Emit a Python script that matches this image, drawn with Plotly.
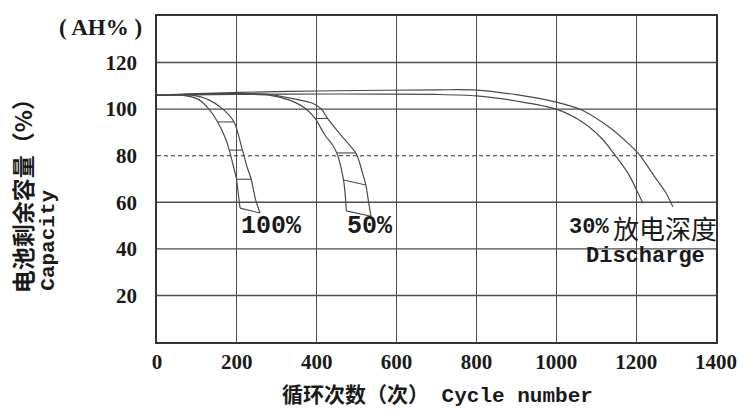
import plotly.graph_objects as go

# Cycle-life bands (two boundary curves per depth of discharge)
CYC_100_IN = [0, 60, 100, 125, 152, 170, 181, 192, 199, 204, 208]
CAP_100_IN = [106, 106, 104.5, 101, 94.5, 88, 82.4, 75, 69.9, 63, 57.5]
CYC_100_OUT = [0, 86, 130, 165, 193, 214, 225, 236, 247, 258]
CAP_100_OUT = [106, 106, 104, 100, 94.5, 82.4, 75.5, 69.9, 61, 55.4]

CYC_50_IN = [0, 200, 280, 330, 370, 396, 420, 440, 452, 462, 468, 472, 474]
CAP_50_IN = [106, 106.4, 106, 104, 100.5, 96, 89, 84.5, 80.5, 74, 68.5, 62, 56.3]
CYC_50_OUT = [0, 200, 280, 340, 390, 412, 427, 455, 480, 500, 514, 523, 530, 536]
CAP_50_OUT = [106, 106.8, 106.3, 104.5, 102.5, 100, 96, 90, 85, 80.5, 73, 67.4, 60, 54]

CYC_30_IN = [0, 200, 450, 700, 800, 900, 1000, 1065, 1114, 1147, 1180, 1205, 1217]
CAP_30_IN = [106, 106.3, 106.5, 106.3, 105.7, 103.5, 100, 94.5, 87.4, 80.3, 72.4, 63.9, 59.6]
CYC_30_OUT = [0, 200, 450, 700, 800, 900, 1000, 1065, 1131, 1180, 1209, 1246, 1275, 1292]
CAP_30_OUT = [106, 107.2, 107.9, 108.3, 108.2, 106.2, 103, 99.5, 92.4, 85.3, 80.3, 71, 63.9, 58.1]

# Hatch segments joining the band edges (start cycle/cap -> end cycle/cap)
HATCH_100_X0 = [152, 181, 199, 208]
HATCH_100_Y0 = [94.5, 82.4, 69.9, 57.5]
HATCH_100_X1 = [193, 214, 236, 258]
HATCH_100_Y1 = [94.5, 82.4, 69.9, 55.4]

HATCH_50_X0 = [396, 450, 467, 474]
HATCH_50_Y0 = [96, 81.2, 69.6, 56.3]
HATCH_50_X1 = [427, 498, 523, 536]
HATCH_50_Y1 = [96, 81.2, 67.4, 54]

GRID_LEVELS = [20, 40, 60, 80, 100, 120]
DASHED_LEVEL = 80
X_TICKS = [0, 200, 400, 600, 800, 1000, 1200, 1400]
Y_TICKS = [20, 40, 60, 80, 100, 120]

CURVE_COLOR = "#4a4a4a"
GRID_COLOR = "#4d4d4d"
TEXT_COLOR = "#1a1a1a"

fig = go.Figure()


def add_curve(xs, ys):
    fig.add_trace(go.Scatter(
        x=xs, y=ys, mode="lines",
        line=dict(color=CURVE_COLOR, width=1.2, shape="spline", smoothing=0.8),
        hoverinfo="skip", showlegend=False,
    ))


def add_hatch(x0, y0, x1, y1):
    xs, ys = [], []
    for a, b, c, d in zip(x0, y0, x1, y1):
        xs += [a, c, None]
        ys += [b, d, None]
    fig.add_trace(go.Scatter(
        x=xs, y=ys, mode="lines",
        line=dict(color=CURVE_COLOR, width=1.1),
        hoverinfo="skip", showlegend=False,
    ))


for xs, ys in [(CYC_100_IN, CAP_100_IN), (CYC_100_OUT, CAP_100_OUT),
               (CYC_50_IN, CAP_50_IN), (CYC_50_OUT, CAP_50_OUT),
               (CYC_30_IN, CAP_30_IN), (CYC_30_OUT, CAP_30_OUT)]:
    add_curve(xs, ys)

add_hatch(HATCH_100_X0, HATCH_100_Y0, HATCH_100_X1, HATCH_100_Y1)
add_hatch(HATCH_50_X0, HATCH_50_Y0, HATCH_50_X1, HATCH_50_Y1)

# Horizontal grid: solid, except the dashed 80% reference level
shapes = []
for lvl in GRID_LEVELS:
    dashed = lvl == DASHED_LEVEL
    shapes.append(dict(
        type="line", xref="paper", yref="y", x0=0, x1=1, y0=lvl, y1=lvl,
        layer="below",
        line=dict(color="#333333" if dashed else GRID_COLOR,
                  width=1.1 if dashed else 1.4,
                  dash="4px,3px" if dashed else "solid"),
    ))

serif = "Liberation Serif"
mono = "Liberation Mono"
cjk = "Noto Sans CJK SC"

annotations = [
    dict(text="( AH% )", xref="paper", yref="paper", x=-0.101, y=0.966,
         xanchor="center", yanchor="middle", showarrow=False,
         font=dict(family=serif, size=23, color=TEXT_COLOR, weight="bold")),
    dict(text="电池剩余容量（%）", xref="paper", yref="paper", x=-0.241, y=0.466,
         xanchor="center", yanchor="middle", textangle=-90, showarrow=False,
         font=dict(family=cjk, size=23, color=TEXT_COLOR, weight="bold")),
    dict(text="Capacity", xref="paper", yref="paper", x=-0.193, y=0.311,
         xanchor="center", yanchor="middle", textangle=-90, showarrow=False,
         font=dict(family=mono, size=21, color=TEXT_COLOR, weight="bold")),
    dict(text=f"<span style='font-family:{cjk}'><b>循环次数（次）</b></span> "
              f"<span style='font-family:{mono}'><b>Cycle number</b></span>",
         xref="paper", yref="paper", x=0.502, y=-0.157,
         xanchor="center", yanchor="middle", showarrow=False,
         font=dict(family=mono, size=21, color=TEXT_COLOR)),
    dict(text="100%", xref="x", yref="y", x=206, y=49.4,
         xanchor="left", yanchor="middle", showarrow=False,
         font=dict(family=mono, size=25, color=TEXT_COLOR, weight="bold")),
    dict(text="50%", xref="x", yref="y", x=470, y=49.4,
         xanchor="left", yanchor="middle", showarrow=False,
         font=dict(family=mono, size=25, color=TEXT_COLOR, weight="bold")),
    dict(text="30%", xref="x", yref="y", x=1136, y=49.0,
         xanchor="right", yanchor="middle", showarrow=False,
         font=dict(family=mono, size=22, color=TEXT_COLOR, weight="bold")),
    dict(text="放电深度", xref="x", yref="y", x=1136, y=49.0,
         xanchor="left", yanchor="middle", showarrow=False,
         font=dict(family=cjk, size=26, color=TEXT_COLOR)),
    dict(text="Discharge", xref="x", yref="y", x=1224, y=36.6,
         xanchor="center", yanchor="middle", showarrow=False,
         font=dict(family=mono, size=22, color=TEXT_COLOR, weight="bold")),
]

fig.update_layout(
    width=749, height=412,
    margin=dict(l=157, r=27, t=16, b=70),
    paper_bgcolor="white", plot_bgcolor="white",
    shapes=shapes, annotations=annotations,
    xaxis=dict(
        range=[0, 1400], tickvals=X_TICKS, ticktext=[str(v) for v in X_TICKS],
        showgrid=True, gridcolor=GRID_COLOR, gridwidth=1.4,
        showline=True, mirror=True, linecolor="#333", linewidth=1.6,
        zeroline=False, ticks="",
        tickfont=dict(family=serif, size=21, color=TEXT_COLOR, weight="bold"),
        fixedrange=True,
    ),
    yaxis=dict(
        range=[0, 140], tickvals=Y_TICKS, ticktext=[str(v) for v in Y_TICKS],
        showgrid=False,
        showline=True, mirror=True, linecolor="#333", linewidth=1.6,
        zeroline=False, ticks="", ticklabelstandoff=14,
        tickfont=dict(family=serif, size=21, color=TEXT_COLOR, weight="bold"),
        fixedrange=True,
    ),
)

fig.write_html("out.html")
